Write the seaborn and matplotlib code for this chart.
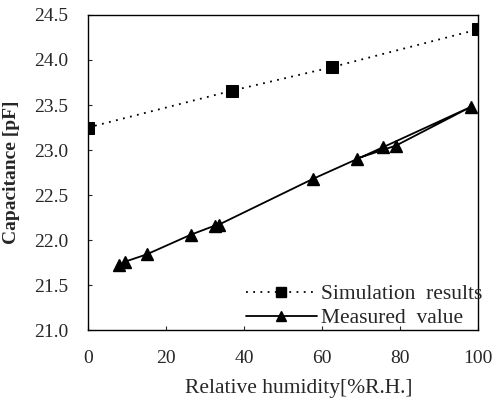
import matplotlib
matplotlib.use("Agg")
import matplotlib.pyplot as plt
import seaborn as sns
import pandas as pd
from matplotlib.lines import Line2D

# simulation results
sim_rh = [0, 37, 62.5, 100]
sim_cap = [23.25, 23.66, 23.92, 24.34]

# measured values (rising then falling humidity, drawn in measurement order)
meas_rh = [8, 9.5, 15, 26.4, 32.5, 33.5, 57.7, 69, 75.6, 98.2, 79, 70]
meas_cap = [21.72, 21.76, 21.84, 22.06, 22.16, 22.17, 22.68, 22.90, 23.03, 23.48, 23.05, 22.92]
# the last point only closes the loop, no marker is drawn there
meas_markers = [True] * 11 + [False]

x_ticks = [0, 20, 40, 60, 80, 100]
y_ticks = [21.0, 21.5, 22.0, 22.5, 23.0, 23.5, 24.0, 24.5]

sns.set_style("ticks")
plt.rcParams["font.family"] = ["Liberation Serif", "DejaVu Serif"]

fig, ax = plt.subplots(figsize=(5, 4.05), dpi=100)
fig.subplots_adjust(left=0.176, right=0.956, top=0.963, bottom=0.185)

sim = pd.DataFrame({"rh": sim_rh, "cap": sim_cap})
meas = pd.DataFrame({"rh": meas_rh, "cap": meas_cap})

dots = (0, (1, 3))
sns.lineplot(data=sim, x="rh", y="cap", ax=ax, color="black", linestyle=dots,
             linewidth=1.3, marker="s", markersize=8, markeredgecolor="black",
             sort=False, legend=False)
sns.lineplot(data=meas, x="rh", y="cap", ax=ax, color="black", linewidth=1.3,
             sort=False, legend=False)
mk = meas[meas_markers]
ax.plot(mk["rh"], mk["cap"], linestyle="none", marker="^", markersize=8, color="black")

handles = [
    Line2D([], [], color="black", linestyle=dots, linewidth=1.3, marker="s", markersize=7),
    Line2D([], [], color="black", linewidth=1.3, marker="^", markersize=7),
]
ax.legend(handles, ["Simulation  results", "Measured  value"], loc="lower right",
          frameon=False, fontsize=15.5, handlelength=3.3, handletextpad=0.2,
          labelspacing=0.2, borderaxespad=0, borderpad=0,
          bbox_to_anchor=(1.012, 0.005))

ax.set_xlim(0, 100)
ax.set_ylim(21.0, 24.5)
ax.set_xticks(x_ticks)
ax.set_yticks(y_ticks)
ax.set_xticklabels([str(t) for t in x_ticks])
ax.set_yticklabels([f"{t:.1f}" for t in y_ticks])
ax.tick_params(direction="in", length=3, width=0.8, labelsize=14, pad=14)

for s in ax.spines.values():
    s.set_visible(True)
    s.set_color("black")
    s.set_linewidth(1.0)

ax.set_xlabel("Relative humidity[%R.H.]", fontsize=15.5)
ax.xaxis.set_label_coords(0.54, -0.155)
ax.set_ylabel("Capacitance [pF]", fontsize=14, fontweight="bold", labelpad=10)

fig.savefig("out.png", dpi=100)
